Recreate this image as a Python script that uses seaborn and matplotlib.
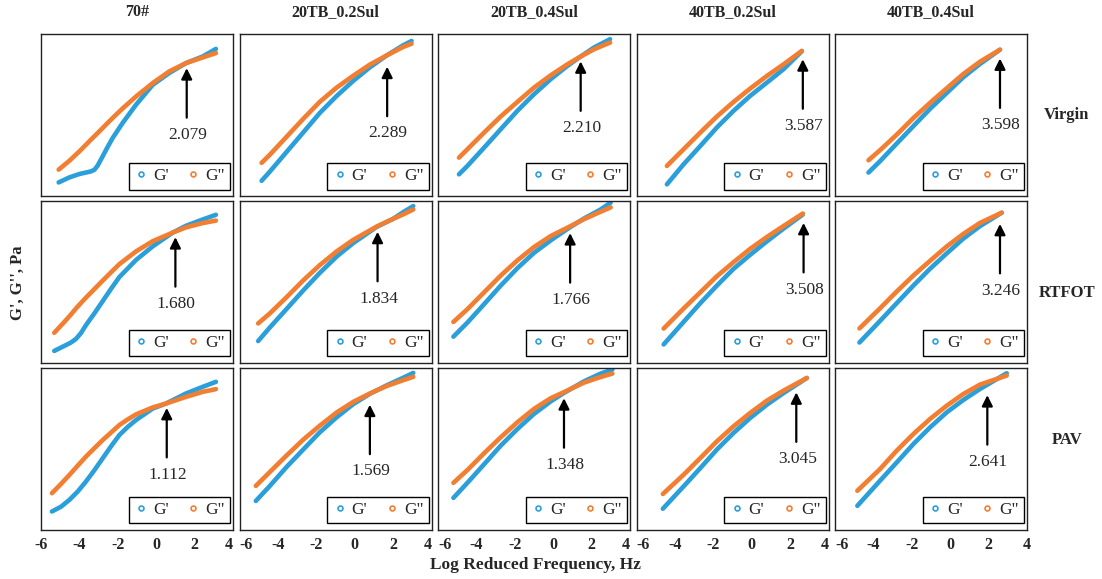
import matplotlib
matplotlib.use("Agg")
import matplotlib.pyplot as plt
from matplotlib.lines import Line2D
import pandas as pd
import seaborn as sns

sns.set_style("white")
plt.rcParams['font.family'] = ['Liberation Serif', 'DejaVu Serif']
plt.rcParams['axes.unicode_minus'] = False

# binders (columns) and aging states (rows)
binders = ["70#", "20TB_0.2Sul", "20TB_0.4Sul", "40TB_0.2Sul", "40TB_0.4Sul"]
agings = ["Virgin", "RTFOT", "PAV"]

# log reduced frequency (Hz) per panel, row = aging, item = binder
freq_virgin = [
    [-5.08, -4.52, -4.00, -3.40, -3.22, -3.05, -2.79, -2.53, -2.27, -1.75, -1.05, -0.18, 0.68, 1.55, 2.42, 3.11],
    [-4.85, -4.42, -3.55, -2.68, -1.82, -0.95, -0.08, 0.79, 1.66, 2.52, 2.96],
    [-4.91, -4.47, -3.60, -2.74, -1.87, -1.00, -0.13, 0.74, 1.43, 2.13, 2.96],
    [-4.42, -3.55, -2.68, -1.82, -0.95, -0.08, 0.79, 1.66, 2.61],
    [-4.26, -3.66, -2.79, -1.92, -1.05, -0.18, 0.68, 1.55, 2.59],
]
freq_rtfot = [
    [-5.31, -4.70, -4.44, -4.18, -3.92, -3.66, -3.22, -2.79, -2.35, -1.92, -1.05, -0.18, 0.86, 1.55, 2.42, 3.11],
    [-5.03, -4.42, -3.55, -2.68, -1.82, -0.95, -0.08, 1.14, 2.00, 2.52, 3.05],
    [-5.20, -4.47, -3.60, -2.74, -1.87, -1.00, -0.13, 0.82, 1.60, 2.47, 2.99],
    [-4.59, -3.55, -2.68, -1.82, -0.95, -0.08, 0.79, 1.66, 2.66],
    [-4.73, -3.66, -2.79, -1.92, -1.05, -0.18, 0.68, 1.55, 2.68],
]
freq_pav = [
    [-5.43, -4.95, -4.52, -4.09, -3.66, -3.22, -2.79, -2.35, -1.92, -1.48, -1.05, -0.18, 0.51, 1.55, 2.42, 3.11],
    [-5.15, -4.42, -3.55, -2.68, -1.82, -0.95, -0.08, 0.79, 1.66, 2.52, 3.05],
    [-5.20, -4.47, -3.60, -2.74, -1.87, -1.00, -0.13, 0.48, 1.60, 2.47, 3.08],
    [-4.63, -3.55, -2.68, -1.82, -0.95, -0.08, 0.79, 1.66, 2.87],
    [-4.84, -3.66, -2.79, -1.92, -1.05, -0.18, 0.68, 1.55, 2.94],
]

# storage modulus G' (relative log scale, no y ticks in the original)
gp_virgin = [
    [8.4, 11.5, 13.6, 15.2, 16.2, 18.8, 24.5, 30.3, 35.8, 45.1, 56.4, 68.7, 76.0, 82.1, 86.2, 90.9],
    [9.4, 15.1, 27.2, 39.3, 51.3, 61.7, 71.1, 79.5, 86.8, 93.1, 95.8],
    [13.4, 18.6, 29.9, 41.2, 52.6, 62.9, 72.2, 80.4, 86.2, 91.8, 96.9],
    [7.2, 19.6, 30.9, 42.3, 52.6, 61.9, 70.1, 78.4, 89.5],
    [14.5, 21.5, 32.4, 43.2, 53.9, 63.7, 73.4, 81.6, 90.4],
]
gp_rtfot = [
    [7.4, 11.0, 12.6, 14.8, 18.4, 23.3, 30.6, 38.1, 45.8, 53.0, 63.6, 72.0, 80.5, 84.7, 88.6, 91.5],
    [13.5, 21.9, 33.3, 44.8, 55.6, 65.6, 74.0, 84.0, 89.0, 93.1, 96.9],
    [16.2, 24.9, 36.3, 47.7, 58.5, 68.0, 75.7, 83.4, 89.2, 94.8, 99.0],
    [11.4, 25.3, 36.9, 47.7, 58.1, 66.8, 75.1, 83.0, 91.7],
    [12.6, 25.9, 36.9, 47.8, 58.2, 67.7, 76.8, 84.5, 92.8],
]
gp_pav = [
    [11.3, 14.3, 18.5, 23.6, 29.8, 36.8, 44.1, 51.6, 58.5, 63.6, 67.8, 74.9, 78.0, 84.2, 88.3, 91.4],
    [17.8, 27.1, 38.8, 49.6, 60.2, 69.4, 77.6, 84.0, 89.2, 93.9, 96.9],
    [19.7, 29.0, 40.5, 51.9, 62.2, 71.6, 79.3, 84.0, 91.7, 96.5, 99.0],
    [13.0, 26.8, 38.1, 49.5, 59.8, 69.1, 77.3, 84.5, 93.8],
    [14.8, 30.3, 41.6, 53.0, 63.3, 72.6, 80.2, 87.0, 96.7],
]

# loss modulus G''
gpp_virgin = [
    [16.3, 21.8, 27.6, 34.8, 36.9, 38.9, 42.0, 45.1, 48.2, 54.1, 61.5, 69.8, 77.0, 82.1, 85.6, 88.3],
    [20.5, 25.5, 36.6, 47.7, 58.2, 66.9, 74.3, 81.2, 86.8, 92.1, 94.1],
    [23.7, 28.9, 39.2, 49.1, 58.1, 67.0, 74.6, 81.4, 86.2, 90.7, 94.8],
    [18.6, 28.9, 39.2, 49.1, 58.1, 66.4, 74.2, 81.4, 89.7],
    [22.1, 28.3, 37.9, 48.2, 57.6, 66.6, 75.4, 83.0, 90.4],
]
gpp_rtfot = [
    [18.6, 26.4, 29.9, 33.6, 37.0, 40.3, 45.6, 50.8, 56.0, 61.0, 68.9, 75.2, 80.5, 83.7, 86.4, 87.9],
    [24.4, 30.6, 40.6, 51.0, 60.4, 68.8, 76.0, 84.2, 89.0, 91.7, 94.8],
    [25.3, 33.2, 43.6, 53.9, 63.3, 71.6, 78.4, 84.0, 88.8, 93.4, 96.1],
    [21.2, 33.6, 43.6, 53.5, 62.2, 70.5, 77.8, 84.6, 92.3],
    [21.3, 33.7, 44.1, 54.0, 63.1, 72.0, 79.7, 86.5, 92.8],
]
gpp_pav = [
    [22.6, 28.4, 33.9, 39.6, 45.2, 50.4, 55.4, 60.1, 64.7, 68.2, 71.3, 75.6, 78.0, 82.1, 85.2, 86.9],
    [27.1, 35.7, 45.9, 55.7, 64.3, 72.4, 79.0, 84.2, 88.8, 92.4, 94.5],
    [29.0, 36.9, 47.3, 57.1, 66.4, 74.7, 81.3, 84.6, 90.9, 94.4, 96.5],
    [22.1, 34.0, 44.3, 54.6, 63.9, 72.2, 79.8, 86.0, 93.8],
    [24.1, 37.5, 48.9, 59.2, 68.5, 76.7, 83.9, 89.7, 95.3],
]

# crossover values and where the arrows point
cross_values = [
    ["2.079", "2.289", "2.210", "3.587", "3.598"],
    ["1.680", "1.834", "1.766", "3.508", "3.246"],
    ["1.112", "1.569", "1.348", "3.045", "2.641"],
]
cross_x = [
    [1.59, 1.69, 1.43, 2.66, 2.59],
    [1.00, 1.19, 0.88, 2.70, 2.59],
    [0.55, 0.79, 0.56, 2.32, 1.93],
]
cross_y = [
    [80.7, 81.6, 84.9, 86.2, 86.7],
    [79.4, 82.7, 81.9, 88.2, 87.6],
    [77.0, 79.0, 83.0, 86.6, 84.9],
]

freqs = [freq_virgin, freq_rtfot, freq_pav]
gps = [gp_virgin, gp_rtfot, gp_pav]
gpps = [gpp_virgin, gpp_rtfot, gpp_pav]

blue = "#2b9fd9"
orange = "#f27e32"

fig, axes = plt.subplots(3, 5, figsize=(11.02, 5.79), dpi=100)
fig.subplots_adjust(left=0.0372, right=0.932, bottom=0.085, top=0.941,
                    wspace=0.034, hspace=0.031)

for r in range(3):
    for c in range(5):
        ax = axes[r, c]
        df = pd.DataFrame({"freq": freqs[r][c], "G'": gps[r][c], 'G"': gpps[r][c]})
        sns.lineplot(data=df, x="freq", y="G'", ax=ax, color=blue, lw=3.3,
                     legend=False, solid_capstyle="round")
        sns.lineplot(data=df, x="freq", y='G"', ax=ax, color=orange, lw=3.3,
                     legend=False, solid_capstyle="round")
        ax.set_xlim(-6, 4)
        ax.set_ylim(0, 100)
        ax.set_xticks([-6, -4, -2, 0, 2, 4])
        ax.set_yticks([])
        ax.set_xlabel("")
        ax.set_ylabel("")
        ax.tick_params(axis="x", length=0, pad=5, labelsize=11.5)
        if r < 2:
            ax.set_xticklabels([])
        else:
            labels = ax.get_xticklabels()
            for t in labels:
                t.set_fontweight("bold")
            # keep neighbouring "4" and "-6" apart
            if c > 0:
                labels[0].set_horizontalalignment("left")
            if c < 4:
                labels[-1].set_horizontalalignment("right")
        for s in ax.spines.values():
            s.set_color("#222222")
            s.set_linewidth(1.0)

        # crossover arrow and value
        tx, ty = cross_x[r][c], cross_y[r][c]
        ax.annotate("", xy=(tx, ty), xytext=(tx, ty - 34),
                    arrowprops=dict(arrowstyle="-|>", color="black", lw=1.6,
                                    mutation_scale=16))
        ax.text(tx + 0.05, ty - 38, cross_values[r][c], ha="center", va="top",
                fontsize=12.5)

        handles = [
            Line2D([], [], ls="none", marker="o", ms=3.5, mfc="none", mec=blue, mew=1.2),
            Line2D([], [], ls="none", marker="o", ms=3.5, mfc="none", mec=orange, mew=1.2),
        ]
        leg = ax.legend(handles, ["G'", 'G"'], ncol=2, loc="lower right",
                        bbox_to_anchor=(0.985, 0.04), fontsize=12.5, frameon=True,
                        fancybox=False, edgecolor="black", framealpha=1,
                        handlelength=0.8, handletextpad=0.3, columnspacing=1.0,
                        borderpad=0.3, borderaxespad=0)
        leg.get_frame().set_linewidth(1.0)

# column titles
for c, name in enumerate(binders):
    pos = axes[0, c].get_position()
    fig.text((pos.x0 + pos.x1) / 2, 1 - 12 / 579, name, ha="center", va="center",
             fontsize=11.5, fontweight="bold")

# row labels
for r, (name, yp) in enumerate(zip(agings, [115, 293, 440])):
    fig.text(1067 / 1102, 1 - yp / 579, name, ha="center", va="center",
             fontsize=12, fontweight="bold")

fig.text(18 / 1102, 1 - 283 / 579, "G', G'', Pa", rotation=90, ha="center",
         va="center", fontsize=12, fontweight="bold")
fig.text(535 / 1102, 1 - 565 / 579, "Log Reduced Frequency, Hz", ha="center",
         va="center", fontsize=12.5, fontweight="bold")

plt.savefig("out.png", dpi=100)
plt.close()
